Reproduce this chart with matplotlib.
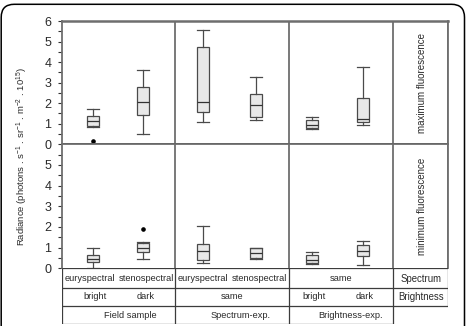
import matplotlib
matplotlib.use("Agg")
import matplotlib.pyplot as plt
from matplotlib.patches import FancyBboxPatch
import numpy as np

plt.rcParams["font.family"] = ["Liberation Sans", "DejaVu Sans"]
plt.rcParams["mathtext.fontset"] = "custom"
plt.rcParams["mathtext.rm"] = "Liberation Sans"
plt.rcParams["mathtext.it"] = "Liberation Sans:italic"

# box statistics: (whislo, q1, med, q3, whishi)
max_stats = [
    (0.85, 0.89, 1.13, 1.40, 1.70),   # field, bright
    (0.50, 1.41, 2.04, 2.80, 3.62),   # field, dark
    (1.10, 1.57, 2.04, 4.73, 5.55),   # spectrum-exp, eury
    (1.20, 1.34, 1.90, 2.43, 3.27),   # spectrum-exp, steno
    (0.74, 0.78, 0.92, 1.18, 1.33),   # brightness-exp, bright
    (0.92, 1.07, 1.23, 2.27, 3.78),   # brightness-exp, dark
]
max_fliers = [[0.16], [], [], [], [], []]

min_stats = [
    (0.03, 0.29, 0.47, 0.66, 0.96),
    (0.44, 0.78, 1.00, 1.22, 1.25),
    (0.27, 0.40, 0.84, 1.17, 2.05),
    (0.44, 0.49, 0.75, 0.96, 0.99),
    (0.22, 0.27, 0.42, 0.66, 0.78),
    (0.15, 0.60, 0.83, 1.12, 1.33),
]
min_fliers = [[], [1.92], [], [], [], []]

spectrum = ["euryspectral", "stenospectral", "euryspectral", "stenospectral", "same"]
brightness = ["bright", "dark", "same", "bright", "dark"]
groups = ["Field sample", "Spectrum-exp.", "Brightness-exp."]
row_titles = ["Spectrum", "Brightness"]
panel_titles = ["maximum fluorescence", "minimum fluorescence"]

# layout in pixels (x measured from the left axis line)
W, H = 469, 326
edges = [0, 112.7, 227, 331]
x_end = 386
pos = [30.4, 80.4, 141, 193.4, 250, 301]
spec_x = [28, 84, 141, 197, 279]
bright_x = [33, 83.5, 170, 252, 302.5]
group_x = [68.5, 178.5, 288]

GRID = "#6e6e6e"
TAB = "#3c3c3c"
TXT = "#2a2a2a"


def rect(l, t, r, b):
    return [l / W, 1 - b / H, (r - l) / W, (b - t) / H]


def make_stats(vals, fl):
    out = []
    for (lo, q1, med, q3, hi), f in zip(vals, fl):
        out.append(dict(whislo=lo, q1=q1, med=med, q3=q3, whishi=hi, fliers=f))
    return out


fig = plt.figure(figsize=(W / 100, H / 100), dpi=100)

ax1 = fig.add_axes(rect(62.3, 21, 448.3, 144.3))
ax2 = fig.add_axes(rect(62.3, 144.3, 448.3, 268.3))
ax3 = fig.add_axes(rect(62.3, 268.3, 448.3, 324.3))

for ax, vals, fl, title in [(ax1, max_stats, max_fliers, panel_titles[0]),
                            (ax2, min_stats, min_fliers, panel_titles[1])]:
    ax.bxp(make_stats(vals, fl), positions=pos, widths=12, capwidths=12,
           patch_artist=True, manage_ticks=False,
           boxprops=dict(facecolor="#e8e8e8", edgecolor="#4a4a4a", lw=0.9),
           whiskerprops=dict(color="#4a4a4a", lw=0.9),
           capprops=dict(color="#4a4a4a", lw=0.9),
           medianprops=dict(color="#333333", lw=0.9),
           flierprops=dict(marker="o", markersize=2.3, markerfacecolor="k",
                           markeredgecolor="k"))
    ax.set_xlim(0, x_end)
    ax.set_ylim(0, 6)
    ax.set_xticks([])
    ax.set_yticks(np.arange(0, 7, 1), minor=False)
    ax.set_yticks(np.arange(0.5, 6, 1), minor=True)
    ax.tick_params(axis="y", which="both", direction="out", length=3,
                   width=0.8, color="#333333", labelsize=9, pad=5,
                   labelcolor=TXT)
    for x in edges[1:] + [x_end]:
        ax.axvline(x, color=GRID, lw=1.3)
    for s in ["top", "right", "left"]:
        ax.spines[s].set_color(GRID)
        ax.spines[s].set_linewidth(1.3)
    ax.spines["bottom"].set_visible(False)
    ax.text((edges[3] + x_end) / 2 + 1, 3, title, rotation=90, ha="center",
            va="center", fontsize=7, color=TXT)

ax2.set_yticks(np.arange(0, 6, 1))
ax1.spines["top"].set_linewidth(1.8)
ax1.axhline(0, color="black", lw=1.2, zorder=5)

fig.text(22 / W, 1 - 157 / H,
         r"Radiance (photons . s$^{-1}$ . sr$^{-1}$ . m$^{-2}$ . 10$^{15}$)",
         rotation=90, ha="center", va="center", fontsize=6.8, color=TXT)

# category table below the panels
ax3.set_xlim(0, x_end)
ax3.set_ylim(56, 0)
ax3.axis("off")
rows = [0, 20, 37.4, 56]
ax3.hlines([rows[0], rows[1], rows[2]], 0, x_end, color=TAB, lw=0.9)
ax3.hlines(rows[3], 0, edges[3], color=TAB, lw=0.9)
ax3.vlines(edges, 0, 56, color=TAB, lw=0.9)
ax3.vlines(x_end, 0, rows[2], color=TAB, lw=0.9)

for t, x in zip(spectrum, spec_x):
    ax3.text(x, 10.4, t, ha="center", va="center", fontsize=6.7, color=TXT)
for t, x in zip(brightness, bright_x):
    ax3.text(x, 28.4, t, ha="center", va="center", fontsize=6.7, color=TXT)
for t, x in zip(groups, group_x):
    ax3.text(x, 46.7, t, ha="center", va="center", fontsize=6.7, color=TXT)
for t, y in zip(row_titles, [10.4, 28.4]):
    ax3.text((edges[3] + x_end) / 2, y, t, ha="center", va="center",
             fontsize=6.9, color=TXT)

# rounded frame around the whole figure, cut at the bottom
frame = FancyBboxPatch((1.2 / 100, -0.3), (464.5 - 1.2) / 100, (H - 4.3) / 100 + 0.3,
                       boxstyle="round,pad=0,rounding_size=0.13",
                       transform=fig.dpi_scale_trans, fill=False,
                       edgecolor="black", lw=1.1, clip_on=False)
fig.add_artist(frame)

fig.savefig("out.png", dpi=100)
